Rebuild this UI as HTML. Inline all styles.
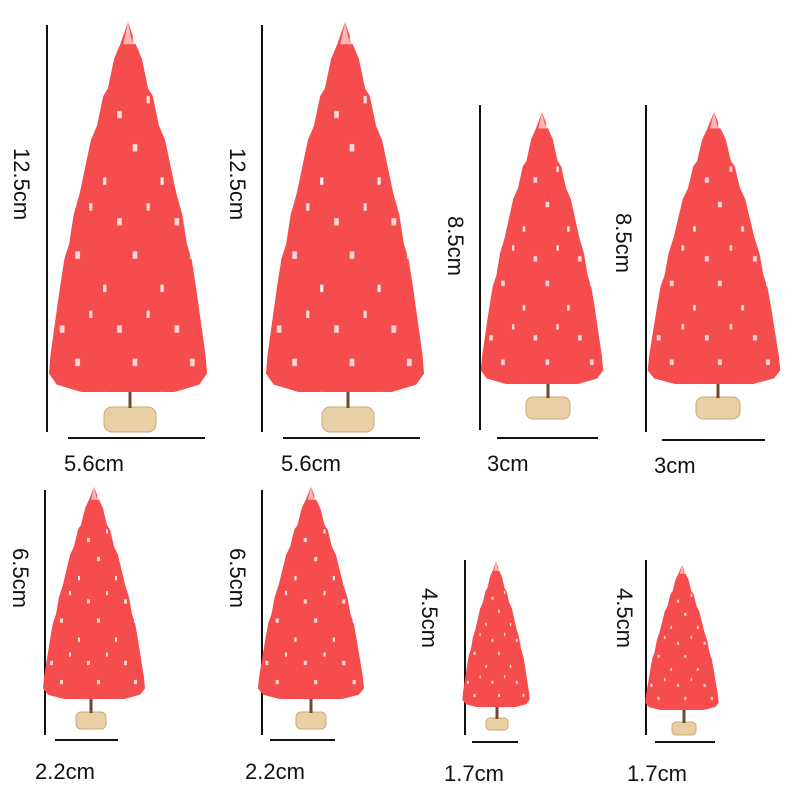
<!DOCTYPE html>
<html><head><meta charset="utf-8"><style>
html,body{margin:0;padding:0;background:#fff;width:800px;height:800px;overflow:hidden}
text{font-family:"Liberation Sans",sans-serif;font-size:22px;fill:#111}
</style></head><body>
<svg width="800" height="800" viewBox="0 0 800 800" xmlns="http://www.w3.org/2000/svg">
<defs>
<pattern id="snow" width="37" height="29" patternUnits="userSpaceOnUse">
<rect width="37" height="29" fill="#f44a4a"/>
<rect x="3" y="4" width="3" height="2" fill="#ffe4e4"/>
<rect x="21" y="13" width="2" height="2" fill="#fff"/>
<rect x="30" y="24" width="3" height="2" fill="#ffdede"/>
<rect x="12" y="20" width="2" height="2" fill="#ffeaea"/>
<rect x="0" y="0" width="37" height="29" fill="#ff7070" opacity="0.08"/>
</pattern>
<g id="tree">
<polygon points="0,0 5,6 9,10 13,18 16,20 20,28 24,32 28,40 31,46 35,52 38,60 41,64 44,72 46,78 48,84 50,90 51,95 46,98 30,100 -30,100 -46,98 -51,95 -50,90 -48,84 -46,78 -44,72 -41,64 -38,60 -35,52 -31,46 -28,40 -24,32 -20,28 -16,20 -13,18 -9,10 -5,6" fill="url(#snow)"/>
<polygon points="0,0 3,6 -3,6" fill="#fff" opacity="0.6"/>
</g>
</defs>
<g stroke="#111" stroke-width="2">
<line x1="47" y1="25" x2="47" y2="432"/><line x1="68" y1="438" x2="205" y2="438"/>
<line x1="262" y1="25" x2="262" y2="432"/><line x1="283" y1="438" x2="420" y2="438"/>
<line x1="480" y1="105" x2="480" y2="430"/><line x1="497" y1="438" x2="598" y2="438"/>
<line x1="646" y1="105" x2="646" y2="432"/><line x1="662" y1="440" x2="765" y2="440"/>
<line x1="45" y1="490" x2="45" y2="735"/><line x1="55" y1="740" x2="118" y2="740"/>
<line x1="262" y1="490" x2="262" y2="735"/><line x1="270" y1="740" x2="335" y2="740"/>
<line x1="465" y1="560" x2="465" y2="735"/><line x1="472" y1="742" x2="518" y2="742"/>
<line x1="646" y1="560" x2="646" y2="735"/><line x1="655" y1="742" x2="715" y2="742"/>
</g>
<g fill="#e9cfa4" stroke="#c9a97a">
<rect x="104" y="407" width="52" height="25" rx="8"/>
<rect x="322" y="407" width="52" height="25" rx="8"/>
<rect x="526" y="397" width="44" height="22" rx="7"/>
<rect x="696" y="397" width="44" height="22" rx="7"/>
<rect x="76" y="712" width="30" height="17" rx="5"/>
<rect x="296" y="712" width="30" height="17" rx="5"/>
<rect x="486" y="718" width="22" height="12" rx="4"/>
<rect x="672" y="722" width="24" height="13" rx="4"/>
</g>
<g stroke="#6a4a30" stroke-width="3">
<line x1="130" y1="385" x2="130" y2="408"/><line x1="348" y1="385" x2="348" y2="408"/>
<line x1="548" y1="375" x2="548" y2="398"/><line x1="718" y1="375" x2="718" y2="398"/>
<line x1="91" y1="695" x2="91" y2="713"/><line x1="311" y1="695" x2="311" y2="713"/>
<line x1="497" y1="703" x2="497" y2="719"/><line x1="684" y1="707" x2="684" y2="723"/>
</g>
<use href="#tree" transform="translate(128,22) scale(1.55,3.7)"/>
<use href="#tree" transform="translate(345,22) scale(1.55,3.7)"/>
<use href="#tree" transform="translate(542,112) scale(1.2,2.72)"/>
<use href="#tree" transform="translate(714,112) scale(1.3,2.72)"/>
<use href="#tree" transform="translate(94,487) scale(1.0,2.12)"/>
<use href="#tree" transform="translate(311,487) scale(1.04,2.12)"/>
<use href="#tree" transform="translate(496,562) scale(0.66,1.45)"/>
<use href="#tree" transform="translate(682,565) scale(0.72,1.45)"/>
<text x="64" y="471">5.6cm</text>
<text x="281" y="471">5.6cm</text>
<text x="487" y="471">3cm</text>
<text x="654" y="473">3cm</text>
<text x="35" y="779">2.2cm</text>
<text x="245" y="779">2.2cm</text>
<text x="444" y="781">1.7cm</text>
<text x="627" y="781">1.7cm</text>
<text transform="translate(14,148) rotate(90)">12.5cm</text>
<text transform="translate(230,148) rotate(90)">12.5cm</text>
<text transform="translate(448,216) rotate(90)">8.5cm</text>
<text transform="translate(616,213) rotate(90)">8.5cm</text>
<text transform="translate(13,548) rotate(90)">6.5cm</text>
<text transform="translate(230,548) rotate(90)">6.5cm</text>
<text transform="translate(422,588) rotate(90)">4.5cm</text>
<text transform="translate(617,588) rotate(90)">4.5cm</text>
</svg>
</body></html>
